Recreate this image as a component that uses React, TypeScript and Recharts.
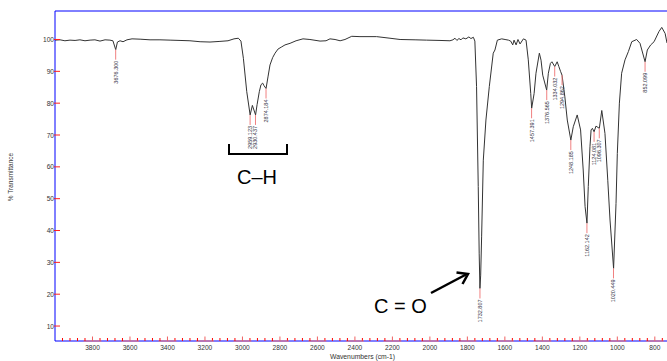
import React from 'react';
import { ComposedChart, Line, Scatter, XAxis, YAxis, ReferenceLine } from 'recharts';

// ---- spectrum data (wavenumber cm-1, %T) ----
const wavenumbers = [
  4000, 3973, 3947, 3920, 3893, 3867, 3840, 3813, 3787, 3760, 3733, 3707, 3691, 3676, 3667, 3653, 3637, 3616, 3589, 3546,
  3493, 3440, 3386, 3333, 3280, 3226, 3173, 3120, 3077, 3045, 3022, 3008, 2995, 2977, 2959, 2947, 2930, 2922, 2910, 2901,
  2892, 2885, 2874, 2863, 2853, 2839, 2826, 2810, 2790, 2773, 2746, 2714, 2677, 2640, 2586, 2554, 2533, 2506, 2479, 2453,
  2417, 2373, 2284, 2213, 2159, 2079, 2017, 1946, 1893, 1877, 1866, 1856, 1845, 1834, 1824, 1808, 1792, 1781, 1768, 1760,
  1751, 1742, 1737, 1733, 1729, 1724, 1715, 1701, 1683, 1662, 1653, 1640, 1617, 1599, 1581, 1569, 1558, 1551, 1540, 1530,
  1519, 1501, 1487, 1475, 1462, 1457, 1444, 1434, 1416, 1407, 1398, 1377, 1368, 1357, 1349, 1334, 1321, 1312, 1303, 1295,
  1280, 1267, 1248, 1235, 1214, 1196, 1182, 1172, 1162, 1155, 1146, 1140, 1133, 1124, 1114, 1096, 1083, 1066, 1051, 1039,
  1020, 1007, 1000, 989, 977, 959, 941, 923, 897, 879, 852, 840, 822, 804, 778, 763, 745, 735,
];
const transmittance = [
  99.8, 99.9, 99.6, 99.8, 99.7, 99.9, 99.6, 99.8, 99.9, 99.5, 99.9, 99.8, 99.6, 96.8, 99.2, 99.6, 99.3, 99.9, 100.2, 100.1,
  99.9, 99.9, 99.8, 99.7, 99.6, 99.3, 99.2, 99.4, 99.6, 100.2, 100.4, 99.5, 94.1, 83.6, 76.3, 79.3, 76.3, 79.5, 83.6, 85.8,
  86.3, 85.5, 84.6, 88.5, 92, 94.3, 95.7, 97, 97.7, 98.3, 98.8, 99.6, 100.2, 100.0, 99.5, 99.6, 100.2, 100.0, 99.6, 100.0,
  101.0, 100.9, 100.9, 100.4, 100, 99.9, 99.8, 99.7, 99.6, 99.9, 100.4, 99.7, 100.3, 99.9, 100.5, 100.2, 100.8, 100.3, 100.7, 99.5,
  85.2, 53.8, 32.9, 21.8, 26, 38, 62.1, 74.7, 85.2, 95.7, 96.7, 99.8, 100.2, 100.0, 99.8, 99.5, 98.3, 99.8, 98.3, 100,
  98.6, 100.2, 99.8, 93.6, 83.1, 78.4, 83, 89.4, 95.7, 93.5, 88.8, 84.1, 89.4, 92.5, 93, 91.5, 93, 91.5, 90, 88.8,
  82, 74.7, 68.4, 72.6, 76.3, 71.6, 59, 47.5, 42.3, 53.8, 66.3, 71.6, 72.1, 71, 72.8, 72.1, 77.7, 70.5, 55.8, 43.3,
  28.1, 48.5, 64.2, 80, 89.4, 93.6, 96.2, 99.3, 100, 98.8, 93, 96.7, 98.3, 99.3, 102.5, 103.8, 101.9, 98.9,
];

// ---- peak annotations ----
const peakWavenumbers = [3676.3, 2959.123, 2930.437, 2874.184, 1732.807, 1457.391, 1376.565, 1334.032, 1294.862, 1248.185, 1162.142, 1124.081, 1096.307, 1020.449, 852.099];
const peakTransmittance = [96.8, 76.3, 76.3, 84.6, 21.8, 78.4, 84.1, 91.5, 88.8, 68.4, 42.3, 71, 72.1, 28.1, 93];
const peakLabels = ['3676.300', '2959.123', '2930.437', '2874.184', '1732.807', '1457.391', '1376.565', '1334.032', '1294.862', '1248.185', '1162.142', '1124.081', '1096.307', '1020.449', '852.099'];

// ---- axis ticks ----
const xMajorTicks = [3800, 3600, 3400, 3200, 3000, 2800, 2600, 2400, 2200, 2000, 1800, 1600, 1400, 1200, 1000, 800];
const xMinorStep = 40;
const yTicks = [10, 20, 30, 40, 50, 60, 70, 80, 90, 100];
const xDomain: [number, number] = [735, 4000];
const yDomain: [number, number] = [5.3, 108.95];

const spectrum = wavenumbers.map((w, i) => ({ w, t: transmittance[i] }));
const peaks = peakWavenumbers.map((w, i) => ({ w, t: peakTransmittance[i], label: peakLabels[i] }));
const xAllTicks: number[] = [];
for (let v = 760; v < 4000; v += xMinorStep) xAllTicks.push(v);

const W = 667;
const H = 361;
const TOP = 11;
const X_AXIS_H = 20;
const Y_AXIS_W = 55;
const AXIS_Y = H - X_AXIS_H;
const FONT = "Arial, 'Liberation Sans', sans-serif";

const XTick = (props: any) => {
  const { x, payload } = props;
  const v = payload.value;
  const major = xMajorTicks.includes(v);
  return (
    <g>
      {major && <line x1={x - 9} x2={x + 9} y1={AXIS_Y} y2={AXIS_Y} stroke="#f07070" strokeWidth={1} />}
      <line x1={x} x2={x} y1={AXIS_Y - (major ? 4.5 : 3)} y2={AXIS_Y} stroke={major ? '#f06060' : '#ff0000'} strokeWidth={1} />
      {major && (
        <text x={x} y={AXIS_Y + 8.5} textAnchor="middle" fontSize={6.6} fill="#333" fontFamily={FONT}>
          {v}
        </text>
      )}
    </g>
  );
};

const YTick = (props: any) => {
  const { y, payload } = props;
  return (
    <g>
      <line x1={Y_AXIS_W - 1} x2={Y_AXIS_W + 5} y1={y} y2={y} stroke="#ff2020" strokeWidth={1} />
      <text x={Y_AXIS_W - 1} y={y} textAnchor="end" dominantBaseline="central" fontSize={6.6} fill="#333" fontFamily={FONT}>
        {payload.value}
      </text>
    </g>
  );
};

const PeakMark = (props: any) => {
  const { cx, cy, payload } = props;
  if (cx == null || cy == null) return <g />;
  return (
    <g>
      <line x1={cx} x2={cx} y1={cy} y2={cy + 10} stroke="#f08080" strokeWidth={1} />
      <text
        transform={`translate(${cx},${cy + 11}) rotate(-90)`}
        textAnchor="end"
        dominantBaseline="central"
        fontSize={5.5}
        fill="#334"
        fontFamily={FONT}
      >
        {payload.label}
      </text>
    </g>
  );
};

export default function App() {
  return (
    <div style={{ position: 'absolute', left: 0, top: 0, width: W, height: H, background: '#fff', overflow: 'hidden' }}>
      <ComposedChart width={W} height={H} data={spectrum} margin={{ top: TOP, right: 0, bottom: 0, left: 0 }}>
        <XAxis
          type="number"
          dataKey="w"
          domain={xDomain}
          reversed
          allowDataOverflow
          ticks={xAllTicks}
          interval={0}
          tick={<XTick />}
          tickLine={false}
          axisLine={{ stroke: '#0000ff', strokeWidth: 1 }}
          height={X_AXIS_H}
        />
        <YAxis
          type="number"
          domain={yDomain}
          allowDataOverflow
          ticks={yTicks}
          interval={0}
          tick={<YTick />}
          tickLine={false}
          axisLine={{ stroke: '#0000ff', strokeWidth: 1 }}
          width={Y_AXIS_W}
        />
        <ReferenceLine y={yDomain[1]} stroke="#0000ff" strokeWidth={1} ifOverflow="visible" />
        <Line
          type="linear"
          dataKey="t"
          stroke="#333"
          strokeWidth={1}
          dot={false}
          activeDot={false}
          isAnimationActive={false}
        />
        <Scatter data={peaks} dataKey="t" shape={<PeakMark />} isAnimationActive={false} />
      </ComposedChart>
      <svg
        width={W}
        height={H}
        style={{ position: 'absolute', left: 0, top: 0, pointerEvents: 'none' }}
        fontFamily={FONT}
      >
        <text transform="translate(13,177) rotate(-90)" textAnchor="middle" fontSize={6.5} fill="#333">
          % Transmittance
        </text>
        <text x={330} y={359} fontSize={6.8} fill="#333">
          Wavenumbers (cm-1)
        </text>
        <path d="M229,144 V154 H287 V144" fill="none" stroke="#000" strokeWidth={2} />
        <text x={257} y={184} textAnchor="middle" fontSize={20} fill="#000">
          C–H
        </text>
        <text x={374} y={313} fontSize={20} fill="#000">
          C = O
        </text>
        <line x1={431} y1={293} x2={467} y2={274} stroke="#000" strokeWidth={2.5} />
        <polyline points="456.5,272.5 468,274 462.5,284" fill="none" stroke="#000" strokeWidth={2.5} strokeLinejoin="miter" />
      </svg>
    </div>
  );
}
